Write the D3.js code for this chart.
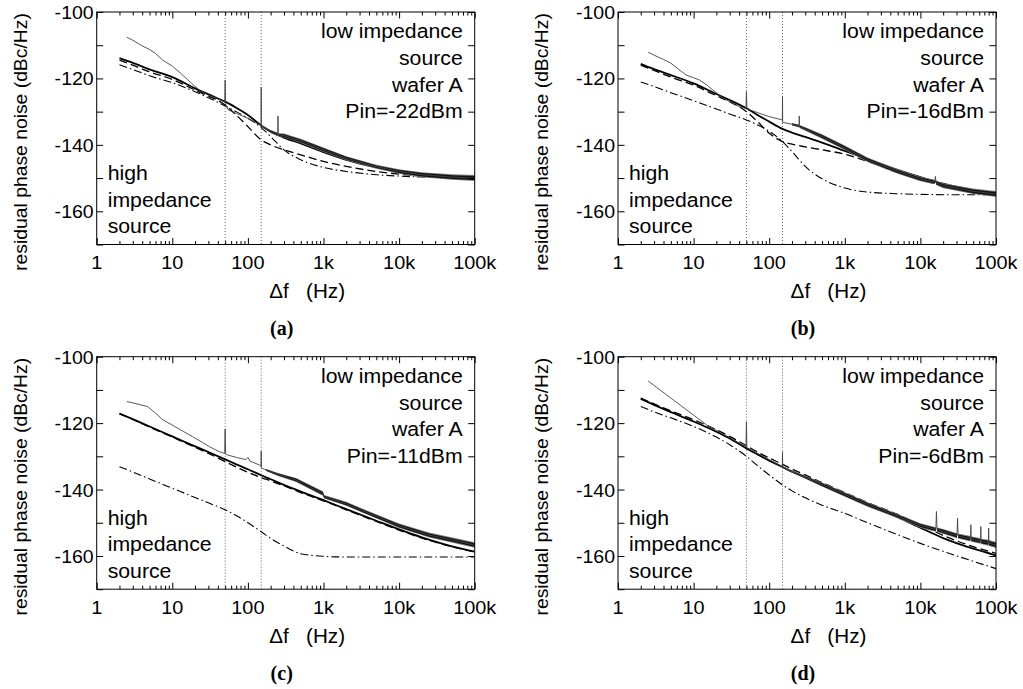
<!DOCTYPE html>
<html><head><meta charset="utf-8">
<script src="https://cdn.jsdelivr.net/npm/d3@7"></script>
<style>
body{margin:0;background:#fff}
svg{display:block}
text{font-family:"Liberation Sans",Arial,Helvetica,sans-serif;fill:#000;white-space:pre}
</style>
</head><body>
<svg id="chart" width="1023" height="689"></svg>
<script>
// ---------------- data ----------------
const xMajorTicks = [1, 10, 100, 1000, 10000, 100000];
const xMajorLabels = ["1", "10", "100", "1k", "10k", "100k"];
const yTicks = [-100, -110, -120, -130, -140, -150, -160, -170];
const yLabelTicks = [-100, -120, -140, -160];
const yLabelText = ["-100", "-120", "-140", "-160"];
const markerFreqs = [50, 150];
const captions = ["(a)", "(b)", "(c)", "(d)"];
const pinLabels = ["Pin=-22dBm", "Pin=-16dBm", "Pin=-11dBm", "Pin=-6dBm"];
const cornerLines = ["low impedance", "source", "wafer A"];
const highLines = ["high", "impedance", "source"];

// model curves share these frequencies (Hz)
const modelFreq = [2, 3, 5, 10, 20, 30, 50, 70, 100, 150, 200, 300, 500, 1000, 2000, 5000, 10000, 20000, 50000, 100000];

// panel (a)
const solidA   = [-113.9, -115.3, -117.3, -119.6, -123, -124.8, -127, -128.8, -131, -134.2, -136, -137.8, -139.6, -142.2, -144.5, -146.8, -148, -149, -149.7, -150];
const dashedA  = [-114.5, -116, -118, -120.3, -123.5, -125.3, -128, -131, -134.5, -138.5, -140, -141.5, -143, -145, -146.5, -148, -148.8, -149.4, -149.8, -150];
const dashdotA = [-115.9, -117.3, -119.2, -121.3, -124, -125.8, -128.3, -130, -132, -134.8, -137.5, -141.5, -144.5, -146.8, -148, -149, -149.4, -149.7, -149.9, -150];
const measFreqA = [2.5, 3, 4, 5, 6, 7.5, 10, 13, 18, 23, 30, 40, 48, 49.3, 50, 50.7, 52, 55, 70, 100, 130, 148, 149.3, 150, 150.7, 155, 200, 245, 248, 250, 252, 300, 500, 1000, 2000, 5000, 10000, 20000, 50000, 100000];
const measA     = [-107.6, -108.5, -110.2, -111.3, -112.5, -114.5, -116.3, -118.5, -121.5, -123.6, -125, -126.2, -127, -127.3, -120.5, -127.6, -128.3, -129.5, -130.5, -132, -133.5, -134, -134.2, -122.7, -134.3, -134.5, -136, -136.8, -136.9, -131.3, -137, -137.2, -138.8, -141.5, -144, -146.6, -148, -149, -149.7, -150];
const spreadA   = [0, 0, 0, 0, 0, 0, 0, 0, 0, 0, 0, 0, 0, 0, 0, 0, 0, 0, 0, 0, 0, 0, 0, 0, 0.15, 0.2, 0.3, 0.35, 0.35, 0, 0.35, 0.4, 0.45, 0.45, 0.4, 0.4, 0.45, 0.5, 0.55, 0.6];

// panel (b)
const solidB   = [-115.6, -117.2, -119, -121.5, -124.7, -126.5, -129, -131, -133, -135.2, -136.3, -137.6, -139.3, -141.8, -144.3, -147.5, -149.7, -151.7, -153.6, -154.6];
const dashedB  = [-116, -117.6, -119.6, -122, -125.2, -127, -130, -133, -136.5, -139, -139.8, -140.6, -141.5, -142.8, -145, -148.3, -150.5, -152.3, -154, -155];
const dashdotB = [-121.1, -122.4, -124.3, -126.7, -129.2, -130.7, -132.5, -134, -135.9, -139, -142, -146.5, -150.2, -153, -154.2, -154.7, -154.9, -155, -155, -155];
const measFreqB = [2.5, 3, 4, 5, 6, 7, 8, 10, 12, 15, 18, 25, 30, 40, 49.3, 50, 50.7, 56, 70, 100, 149.3, 150, 150.7, 200, 248, 250, 252, 300, 500, 1000, 2000, 5000, 10000, 15500, 15800, 16100, 20000, 50000, 100000];
const measB     = [-112.1, -113, -114.3, -115.4, -116.8, -118, -119, -119.8, -120.5, -122, -123.5, -126, -127, -128.5, -129, -124, -129, -129.5, -130.3, -131.5, -132.5, -125.5, -133.2, -133.8, -134.3, -131.3, -134.5, -135.2, -137.5, -140.9, -144.5, -148, -150.3, -151.2, -149.5, -151.4, -152.3, -154, -154.8];
const spreadB   = [0, 0, 0, 0, 0, 0, 0, 0, 0, 0, 0, 0, 0, 0, 0, 0, 0, 0, 0, 0, 0, 0, 0, 0.25, 0.3, 0, 0.3, 0.35, 0.45, 0.45, 0.45, 0.45, 0.45, 0.45, 0, 0.45, 0.5, 0.55, 0.6];

// panel (c)
const solidC   = [-117.1, -118.8, -121, -124, -127, -128.7, -130.9, -132.4, -133.9, -135.7, -136.9, -138.6, -140.6, -143.2, -145.9, -149.4, -152, -154.4, -157.1, -158.7];
const dashedC  = [-117.2, -118.9, -121.2, -124.2, -127.3, -129.1, -131.6, -133.2, -134.8, -136.4, -137.4, -138.9, -140.9, -143.4, -146.1, -149.6, -152.2, -154.6, -157.2, -158.8];
const dashdotC = [-133.1, -134.7, -136.8, -139.6, -142.4, -144, -146.1, -147.8, -150, -152.7, -154.7, -157, -159.3, -160.1, -160.3, -160.3, -160.3, -160.3, -160.3, -160.3];
const measFreqC = [2.5, 3, 4.7, 6, 7.5, 10, 14, 18.6, 25, 31, 42, 49.3, 50, 50.7, 54, 70, 94, 100, 106, 142, 149.3, 150, 150.7, 174, 250, 433, 980, 1020, 2000, 3300, 10000, 25000, 100000];
const measC     = [-113.5, -113.9, -115, -117, -119, -120.6, -122.5, -124.1, -125.8, -127.1, -128.6, -129.1, -121.8, -129.3, -129.6, -130.3, -131, -130.3, -131.4, -132.6, -133, -128.4, -133.5, -134.1, -135.5, -137.1, -141.2, -142.2, -144.3, -146.4, -150.9, -153.7, -156.7];
const spreadC   = [0, 0, 0, 0, 0, 0, 0, 0, 0, 0, 0, 0, 0, 0, 0, 0, 0, 0, 0, 0, 0, 0, 0, 0.2, 0.3, 0.4, 0.45, 0.35, 0.4, 0.4, 0.45, 0.5, 0.55];

// panel (d)
const solidD   = [-112.7, -114.5, -116.7, -119.5, -122.6, -124.6, -127.6, -129.4, -131.3, -133.2, -134.6, -136.3, -138.6, -141.6, -144.6, -148.3, -151.5, -154.6, -157.8, -159.8];
const dashedD  = [-112.5, -114.2, -116.3, -119, -122, -124, -126.8, -128.7, -130.5, -132.4, -133.8, -135.6, -137.9, -140.9, -143.9, -147.5, -150.6, -153.8, -157.2, -159.2];
const dashdotD = [-115, -116.6, -118.4, -121, -124.2, -126.5, -130, -132.8, -135.6, -138.6, -140.4, -142.5, -144.7, -147.2, -150, -153.6, -156.2, -158.6, -161.6, -163.8];
const measFreqD = [2.5, 15, 20, 30, 45, 49.3, 50, 50.7, 55, 100, 149.3, 150, 150.7, 160, 300, 500, 1000, 2000, 5000, 10000, 16000, 16300, 16600, 20000, 30500, 31000, 31500, 46000, 46500, 47000, 62500, 63000, 63500, 79500, 80000, 80500, 100000];
const measD     = [-107.3, -120.6, -122.2, -124.4, -126.6, -127.2, -119.6, -127.4, -127.8, -131, -133.2, -128.6, -133.3, -133.6, -136.3, -138.5, -141.5, -144.5, -148, -150.8, -152, -146.6, -152.1, -152.6, -153.9, -148.6, -154, -154.8, -150.6, -154.9, -155.5, -151.1, -155.6, -156, -151.6, -156.1, -156.7];
const spreadD   = [0, 0, 0, 0, 0, 0, 0, 0, 0, 0, 0, 0, 0, 0.2, 0.3, 0.4, 0.45, 0.45, 0.45, 0.45, 0.45, 0, 0.45, 0.5, 0.5, 0, 0.5, 0.55, 0, 0.55, 0.55, 0, 0.55, 0.6, 0, 0.6, 0.6];

// ---------------- layout ----------------
const W = 378, H = 232.5;
const panels = [
  {left: 96.7, top: 12,    solid: solidA, dashed: dashedA, dashdot: dashdotA, mf: measFreqA, mv: measA, ms: spreadA},
  {left: 618,  top: 12,    solid: solidB, dashed: dashedB, dashdot: dashdotB, mf: measFreqB, mv: measB, ms: spreadB},
  {left: 96.7, top: 356.7, solid: solidC, dashed: dashedC, dashdot: dashdotC, mf: measFreqC, mv: measC, ms: spreadC},
  {left: 618,  top: 356.7, solid: solidD, dashed: dashedD, dashdot: dashdotD, mf: measFreqD, mv: measD, ms: spreadD}
];

const svg = d3.select("#chart");
const x = d3.scaleLog().domain([1, 100000]).range([0, W]);
const y = d3.scaleLinear().domain([-170, -100]).range([H, 0]);

const minorX = [];
[1, 10, 100, 1000, 10000].forEach(d => { for (let k = 2; k <= 9; k++) minorX.push(d * k); });

function addText(g, tx, ty, str, o) {
  const t = g.append("text")
    .attr("transform", `translate(${tx},${ty})` + (o.rot ? ` rotate(${o.rot})` : "") + ` scale(${o.sx || 1},1)`)
    .attr("text-anchor", o.anchor || "start")
    .attr("xml:space", "preserve")
    .style("font-size", o.size + "px")
    .text(str);
  if (o.weight) t.style("font-weight", o.weight);
  if (o.family) t.style("font-family", o.family);
  return t;
}

panels.forEach((p, i) => {
  const g = svg.append("g").attr("transform", `translate(${p.left},${p.top})`);
  const clipId = "clip" + i;
  g.append("clipPath").attr("id", clipId).append("rect").attr("width", W).attr("height", H);
  const plot = g.append("g").attr("clip-path", `url(#${clipId})`);

  // dotted markers at 50 Hz and 150 Hz
  plot.selectAll(".mk").data(markerFreqs).enter().append("line")
    .attr("x1", d => x(d)).attr("x2", d => x(d)).attr("y1", 0).attr("y2", H)
    .attr("stroke", "#666").attr("stroke-width", 1).attr("stroke-dasharray", "1,2");

  const modelPts = arr => modelFreq.map((f, k) => [f, arr[k]]);
  const smooth = d3.line().x(d => x(d[0])).y(d => y(d[1])).curve(d3.curveMonotoneX);

  plot.append("path").attr("d", smooth(modelPts(p.dashdot)))
    .attr("fill", "none").attr("stroke", "#000").attr("stroke-width", 1.1)
    .attr("stroke-dasharray", "8,3,1.5,3");
  plot.append("path").attr("d", smooth(modelPts(p.dashed)))
    .attr("fill", "none").attr("stroke", "#000").attr("stroke-width", 1.3)
    .attr("stroke-dasharray", "8,4");
  plot.append("path").attr("d", smooth(modelPts(p.solid)))
    .attr("fill", "none").attr("stroke", "#000").attr("stroke-width", 1.8);

  // measured spectrum: thin trace plus noise envelope
  const meas = p.mf.map((f, k) => ({f: f, v: p.mv[k], s: p.ms[k]}));
  const band = d3.area().defined(d => d.s > 0)
    .x(d => x(d.f)).y0(d => y(d.v - d.s)).y1(d => y(d.v + d.s));
  const fringe = d3.area().defined(d => d.s > 0)
    .x(d => x(d.f)).y0(d => y(d.v - d.s * 1.5)).y1(d => y(d.v + d.s * 1.5));
  plot.append("path").attr("d", fringe(meas)).attr("fill", "#7a7a7a");
  plot.append("path").attr("d", band(meas)).attr("fill", "#111");
  plot.append("path")
    .attr("d", d3.line().x(d => x(d.f)).y(d => y(d.v))(meas))
    .attr("fill", "none").attr("stroke", "#444").attr("stroke-width", 0.9);

  // frame
  g.append("rect").attr("width", W).attr("height", H)
    .attr("fill", "none").attr("stroke", "#000").attr("stroke-width", 1);

  // ticks (inward, mirrored)
  const styleAxis = a => { a.select(".domain").remove(); a.selectAll("line").attr("stroke", "#000"); };
  g.append("g").attr("transform", `translate(0,${H})`)
    .call(d3.axisBottom(x).tickValues(xMajorTicks).tickSize(-6.5).tickFormat("")).call(styleAxis);
  g.append("g").attr("transform", `translate(0,${H})`)
    .call(d3.axisBottom(x).tickValues(minorX).tickSize(-3.5).tickFormat("")).call(styleAxis);
  g.append("g")
    .call(d3.axisTop(x).tickValues(xMajorTicks).tickSize(-6.5).tickFormat("")).call(styleAxis);
  g.append("g")
    .call(d3.axisTop(x).tickValues(minorX).tickSize(-3.5).tickFormat("")).call(styleAxis);
  g.append("g")
    .call(d3.axisLeft(y).tickValues(yTicks).tickSize(-6.5).tickFormat("")).call(styleAxis);
  g.append("g").attr("transform", `translate(${W},0)`)
    .call(d3.axisRight(y).tickValues(yTicks).tickSize(-6.5).tickFormat("")).call(styleAxis);

  // tick labels
  xMajorTicks.forEach((t, k) => addText(g, x(t), 257, xMajorLabels[k], {size: 18.6, sx: 1.07, anchor: "middle"}));
  yLabelTicks.forEach((t, k) => addText(g, -3, y(t) + 7, yLabelText[k], {size: 18.6, sx: 1.05, anchor: "end"}));

  // axis titles
  addText(g, -70, 130, "residual phase noise (dBc/Hz)", {size: 18.4, sx: 1.05, anchor: "middle", rot: -90});
  addText(g, 172.6, 286, "\u0394f\u00a0\u00a0\u00a0(Hz)", {size: 19.5, sx: 1.06, anchor: "start"});

  // annotations
  cornerLines.concat([pinLabels[i]]).forEach((s, k) =>
    addText(g, 366, 26.3 + k * 26.7, s, {size: 19.5, sx: 1.09, anchor: "end"}));
  highLines.forEach((s, k) =>
    addText(g, 11, 168 + k * 26.6, s, {size: 19.5, sx: 1.09, anchor: "start"}));

  // caption
  addText(g, 185, 323, captions[i], {size: 20, anchor: "middle", weight: "bold", family: "'Liberation Serif','Times New Roman',serif"});
});
</script>
</body></html>
